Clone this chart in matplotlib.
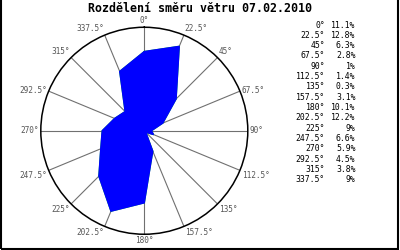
import numpy as np
import matplotlib
matplotlib.use('Agg')
import matplotlib.pyplot as plt
from matplotlib.patches import Rectangle

directions = [0, 22.5, 45, 67.5, 90, 112.5, 135, 157.5,
              180, 202.5, 225, 247.5, 270, 292.5, 315, 337.5]
dir_labels = ['0°', '22.5°', '45°', '67.5°', '90°', '112.5°', '135°', '157.5°',
              '180°', '202.5°', '225°', '247.5°', '270°', '292.5°', '315°', '337.5°']
percent = [11.1, 12.8, 6.3, 2.8, 1, 1.4, 0.3, 3.1,
           10.1, 12.2, 9, 6.6, 5.9, 4.5, 3.8, 9]
pct_labels = ['11.1%', '12.8%', '6.3%', '2.8%', '1%', '1.4%', '0.3%', '3.1%',
              '10.1%', '12.2%', '9%', '6.6%', '5.9%', '4.5%', '3.8%', '9%']

rmax = 14.5
mono = 'DejaVu Sans Mono'

fig = plt.figure(figsize=(4, 2.5), dpi=100)
fig.patch.set_facecolor('white')

# frame around the picture (top edge falls outside)
fig.add_artist(Rectangle((0.002, 0.004), 0.994, 1.2, transform=fig.transFigure,
                         fill=False, edgecolor='black', lw=1.5))

ax = fig.add_axes([0.102, 0.063, 0.5175, 0.828], projection='polar')
ax.set_theta_zero_location('N')
ax.set_theta_direction(-1)
ax.set_ylim(0, rmax)
ax.grid(False)
ax.set_xticks([])
ax.set_yticks([])
ax.spines['polar'].set_color('black')
ax.spines['polar'].set_linewidth(1.1)

theta = np.deg2rad(directions)

# spokes
for t in theta:
    ax.plot([t, t], [0, rmax], color='#707070', lw=0.8, zorder=1)

# wind rose polygon, green edge mostly hidden under the fill
th = np.append(theta, theta[0])
r = np.append(percent, percent[0])
ax.plot(th, r, color='#00dd00', lw=0.9, zorder=2)
ax.fill(th, r, color='#0000ff', zorder=3)

# direction labels around the circle
for t, lab in zip(theta, dir_labels):
    s, c = np.sin(t), np.cos(t)
    ha = 'left' if s > 0.1 else ('right' if s < -0.1 else 'center')
    if c > 0.5:
        va = 'bottom'
    elif c > -0.1:
        va = 'center'
    else:
        va = 'top'
    ax.text(t, rmax * 1.02, lab, ha=ha, va=va, fontsize=5.6,
            family=mono, color='#555555')

fig.text(0.5, 0.968, 'Rozdělení směru větru 07.02.2010', ha='center', va='center',
         fontsize=8.4, fontweight='bold', family=mono)

# legend table on the right
for i, (lab, p) in enumerate(zip(dir_labels, pct_labels)):
    y = 1 - (25 + i * 10.33) / 250
    fig.text(325 / 400, y, lab, ha='right', va='center', fontsize=5.9, family=mono)
    fig.text(355.5 / 400, y, p, ha='right', va='center', fontsize=5.9, family=mono)

fig.savefig('out.png', dpi=100)
